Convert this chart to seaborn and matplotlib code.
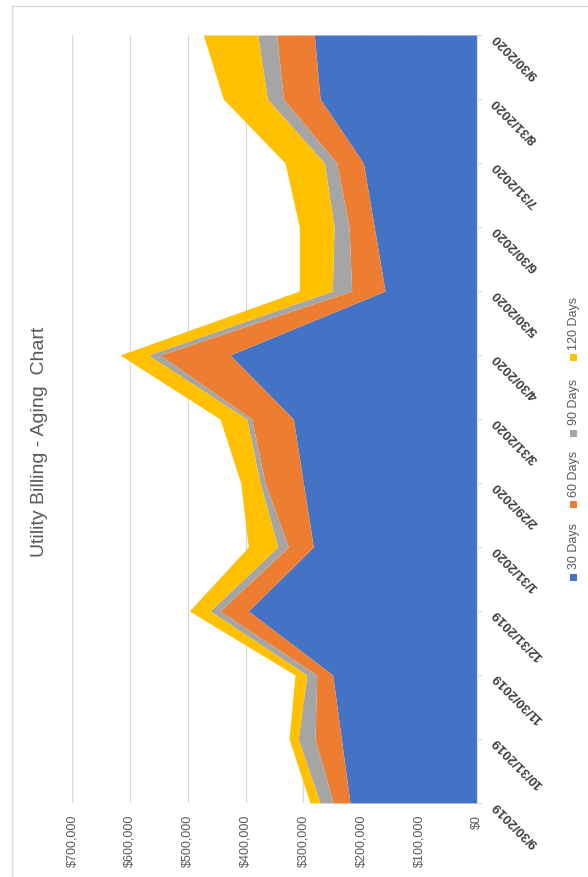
import numpy as np
import matplotlib
matplotlib.use("Agg")
import matplotlib.pyplot as plt
from matplotlib.patches import Rectangle
from matplotlib.lines import Line2D
from matplotlib.ticker import FuncFormatter
import seaborn as sns

# ---- data ---------------------------------------------------------------
periods = ["9/30/2019", "10/31/2019", "11/30/2019", "12/31/2019", "1/31/2020",
           "2/29/2020", "3/31/2020", "4/30/2020", "5/30/2020", "6/30/2020",
           "7/31/2020", "8/31/2020", "9/30/2020"]
series_names = ["30 Days", "60 Days", "90 Days", "120 Days"]
days_30 = [219500, 234500, 249400, 395300, 282900, 300200, 317500, 426900,
           159000, 177700, 196500, 271300, 281200]
days_60 = [28900, 45500, 27600, 48900, 43200, 66200, 71900, 121000,
           57600, 43500, 46000, 63500, 65000]
days_90 = [22900, 28800, 17300, 17300, 18400, 8600, 8600, 20200,
           33500, 25900, 21400, 27600, 32800]
days_120 = [17300, 16100, 20300, 35700, 50800, 33400, 46200, 48900,
            57000, 60000, 67900, 76100, 94000]
value_ticks = [0, 100000, 200000, 300000, 400000, 500000, 600000, 700000]
title = "Utility Billing - Aging  Chart"

# ---- style --------------------------------------------------------------
sns.set_theme(style="white")
plt.rcParams["font.family"] = ["Liberation Sans", "DejaVu Sans"]
palette = sns.color_palette(["#4472C4", "#ED7D31", "#A5A5A5", "#FFC000"])
grid_col = "#D9D9D9"
text_col = "#595959"

W, H = 588, 877
fig = plt.figure(figsize=(W / 100, H / 100), dpi=100)
fig.patch.set_facecolor("white")

# chart-area border
fig.add_artist(Line2D([12 / W, 12 / W], [0, 1 - 6 / H], transform=fig.transFigure,
                      color=grid_col, lw=1.0))
fig.add_artist(Line2D([12 / W, 1], [1 - 6 / H, 1 - 6 / H], transform=fig.transFigure,
                      color=grid_col, lw=1.0))

# plot area (the chart is laid out sideways: periods run upward, values leftward)
ax = fig.add_axes([72 / W, (H - 803) / H, 405 / W, 768 / H])
ax.set_facecolor("none")

y = np.arange(len(periods))
stack = np.vstack([days_30, days_60, days_90, days_120]).astype(float)
upper = np.cumsum(stack, axis=0)
lower = np.vstack([np.zeros(len(periods)), upper[:-1]])
for k, name in enumerate(series_names):
    ax.fill_betweenx(y, lower[k], upper[k], color=palette[k], linewidth=0,
                     label=name, zorder=2)

ax.set_xlim(max(value_ticks), 0)
ax.set_ylim(0, len(periods) - 1)

ax.set_xticks(value_ticks)
ax.xaxis.set_major_formatter(FuncFormatter(lambda v, p: f"${v:,.0f}"))
ax.xaxis.grid(True, color=grid_col, lw=0.9, zorder=0)
ax.yaxis.grid(False)
ax.tick_params(axis="x", length=0, pad=8.5, labelsize=9, labelcolor=text_col,
               labelrotation=90)

ax.yaxis.tick_right()
ax.set_yticks(y)
ax.set_yticklabels(periods)
ax.tick_params(axis="y", right=True, length=3.5, width=0.8, color=grid_col,
               pad=9, labelsize=9.5, labelcolor="#404040")
for lab in ax.get_yticklabels():
    lab.set_fontweight("bold")
    lab.set_rotation(135)
    lab.set_rotation_mode("anchor")
    lab.set_ha("right")
    lab.set_va("center")

for side in ["top", "left", "bottom"]:
    ax.spines[side].set_visible(False)
ax.spines["right"].set_color(grid_col)
ax.spines["right"].set_linewidth(0.9)
ax.spines["right"].set_zorder(3)

# title
fig.text(40 / W, 1 - 442 / H, title, rotation=90, ha="center", va="center",
         fontsize=14, color=text_col)

# legend, stacked along the right edge
sq = 7
legend_square_y = [577, 505, 433, 358]
for k, name in enumerate(series_names):
    cy = legend_square_y[k]
    fig.add_artist(Rectangle(((573 - sq / 2) / W, 1 - (cy + sq / 2) / H),
                             sq / W, sq / H, transform=fig.transFigure,
                             facecolor=palette[k], edgecolor="none"))
    fig.text(574 / W, 1 - (cy - 8) / H, name, rotation=90, ha="center",
             va="bottom", fontsize=9, color=text_col)

fig.savefig("out.png", dpi=100, facecolor="white")
